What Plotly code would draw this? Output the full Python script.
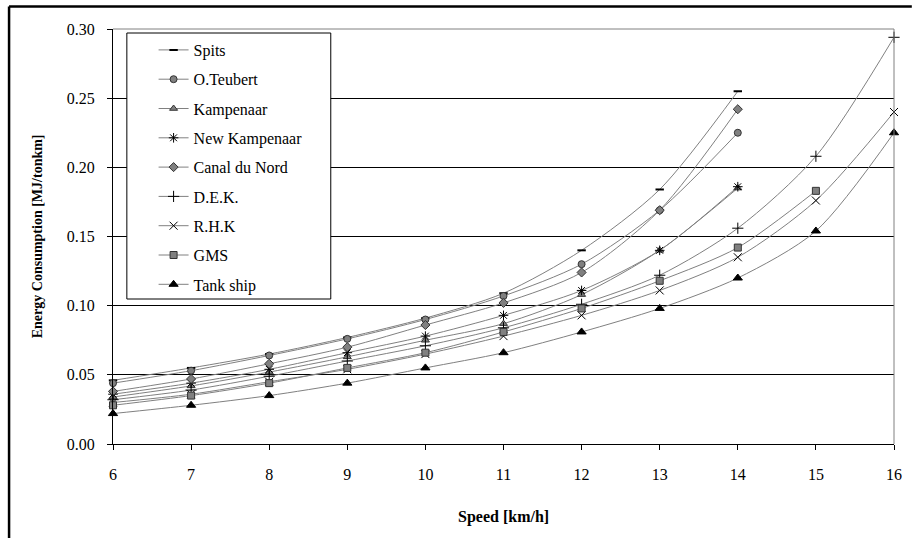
import plotly.graph_objects as go

# Speeds [km/h]
speed = [6, 7, 8, 9, 10, 11, 12, 13, 14, 15, 16]

# Energy consumption [MJ/tonkm] per ship type
spits = [0.046, 0.055, 0.065, 0.077, 0.091, 0.109, 0.140, 0.184, 0.255]
o_teubert = [0.044, 0.053, 0.064, 0.076, 0.090, 0.107, 0.130, 0.169, 0.225]
kampenaar = [0.034, 0.042, 0.052, 0.063, 0.075, 0.087, 0.108, 0.140, 0.185]
new_kampenaar = [0.036, 0.044, 0.054, 0.066, 0.078, 0.093, 0.111, 0.140, 0.186]
canal_du_nord = [0.038, 0.047, 0.058, 0.070, 0.086, 0.102, 0.124, 0.169, 0.242]
dek = [0.032, 0.039, 0.049, 0.060, 0.071, 0.084, 0.101, 0.122, 0.156, 0.208, 0.294]
rhk = [0.030, 0.036, 0.045, 0.054, 0.065, 0.078, 0.093, 0.111, 0.135, 0.176, 0.240]
gms = [0.028, 0.035, 0.044, 0.055, 0.066, 0.081, 0.098, 0.118, 0.142, 0.183]
tank_ship = [0.022, 0.028, 0.035, 0.044, 0.055, 0.066, 0.081, 0.098, 0.120, 0.154, 0.225]

y_ticks = [0.00, 0.05, 0.10, 0.15, 0.20, 0.25, 0.30]
y_tick_text = ["0.00", "0.05", "0.10", "0.15", "0.20", "0.25", "0.30"]

GRAY = "#808080"
FONT = "Liberation Serif, Times New Roman, serif"

series = [
    ("Spits", spits, dict(symbol="line-ew", size=6, color="black", line=dict(color="black", width=2))),
    ("O.Teubert", o_teubert, dict(symbol="circle", size=7, color=GRAY, line=dict(color="#333333", width=1))),
    ("Kampenaar", kampenaar, dict(symbol="triangle-up", size=7, color=GRAY, line=dict(color="#333333", width=1))),
    ("New Kampenaar", new_kampenaar, dict(symbol="asterisk-open", size=8, color="black", line=dict(color="black", width=1))),
    ("Canal du Nord", canal_du_nord, dict(symbol="diamond", size=7, color=GRAY, line=dict(color="#333333", width=1))),
    ("D.E.K.", dek, dict(symbol="cross-thin-open", size=8, color="black", line=dict(color="black", width=1))),
    ("R.H.K", rhk, dict(symbol="x-thin-open", size=8, color="black", line=dict(color="black", width=1))),
    ("GMS", gms, dict(symbol="square", size=7, color=GRAY, line=dict(color="#333333", width=1))),
    ("Tank ship", tank_ship, dict(symbol="triangle-up", size=8, color="black", line=dict(color="black", width=1))),
]

fig = go.Figure()
for name, values, marker in series:
    fig.add_trace(go.Scatter(
        x=speed[:len(values)], y=values, name=name, legendgroup=name,
        mode="lines+markers", cliponaxis=False,
        line=dict(color=GRAY, width=1, shape="spline", smoothing=0.8),
        marker=marker,
    ))

# plot area: 113..902 px horizontally, 29..444 px vertically
W, H, L, T = 789, 415, 113, 29


def px(x):
    return (x - L) / W


def py(y):
    return (T + H - y) / H


shapes = [
    # legend frame
    dict(type="rect", xref="paper", yref="paper", x0=px(127), x1=px(333), y0=py(299), y1=py(33),
         fillcolor="white", line=dict(color="black", width=1), layer="above"),
    # plot-area border, top and right
    dict(type="line", xref="paper", yref="paper", x0=0, x1=1, y0=1, y1=1, line=dict(color=GRAY, width=1), layer="above"),
    dict(type="line", xref="paper", yref="paper", x0=1, x1=1, y0=0, y1=1, line=dict(color=GRAY, width=1), layer="above"),
    # chart-area frame
    dict(type="line", xref="paper", yref="paper", x0=px(8), x1=px(920), y0=py(6.5), y1=py(6.5), line=dict(color="black", width=2.5), layer="above"),
    dict(type="line", xref="paper", yref="paper", x0=px(8), x1=px(8), y0=py(6.5), y1=py(560), line=dict(color="black", width=2.5), layer="above"),
]

fig.update_layout(
    width=912, height=538,
    margin=dict(l=L, r=912 - L - W, t=T, b=538 - T - H),
    paper_bgcolor="white", plot_bgcolor="white",
    font=dict(family=FONT, size=16, color="black"),
    showlegend=True,
    legend=dict(
        x=px(154), y=py(33), xanchor="left", yanchor="top",
        bgcolor="rgba(0,0,0,0)", borderwidth=0,
        font=dict(family=FONT, size=16, color="black"),
        tracegroupgap=5.5, itemwidth=30,
    ),
    shapes=shapes,
    annotations=[
        dict(text="<b>Speed [km/h]</b>", xref="paper", yref="paper", x=0.5, y=py(517),
             showarrow=False, font=dict(family=FONT, size=16), xanchor="center", yanchor="middle"),
        dict(text="<b>Energy Consumption [MJ/tonkm]</b>", xref="paper", yref="paper", x=px(37), y=0.5,
             showarrow=False, font=dict(family=FONT, size=14), textangle=-90, xanchor="center", yanchor="middle"),
    ],
)

fig.update_xaxes(
    range=[6, 16], tickmode="linear", tick0=6, dtick=1,
    showgrid=False, zeroline=False,
    showline=True, linecolor="black", linewidth=1,
    ticks="outside", ticklen=5, tickcolor="black",
    ticklabelstandoff=11,
    tickfont=dict(family=FONT, size=16),
)
fig.update_yaxes(
    range=[0, 0.30], tickvals=y_ticks, ticktext=y_tick_text,
    showgrid=True, gridcolor="black", gridwidth=1, zeroline=False,
    showline=True, linecolor="black", linewidth=1,
    ticks="outside", ticklen=5, tickcolor="black",
    ticklabelstandoff=9,
    tickfont=dict(family=FONT, size=16),
)

fig.write_html("out.html")
